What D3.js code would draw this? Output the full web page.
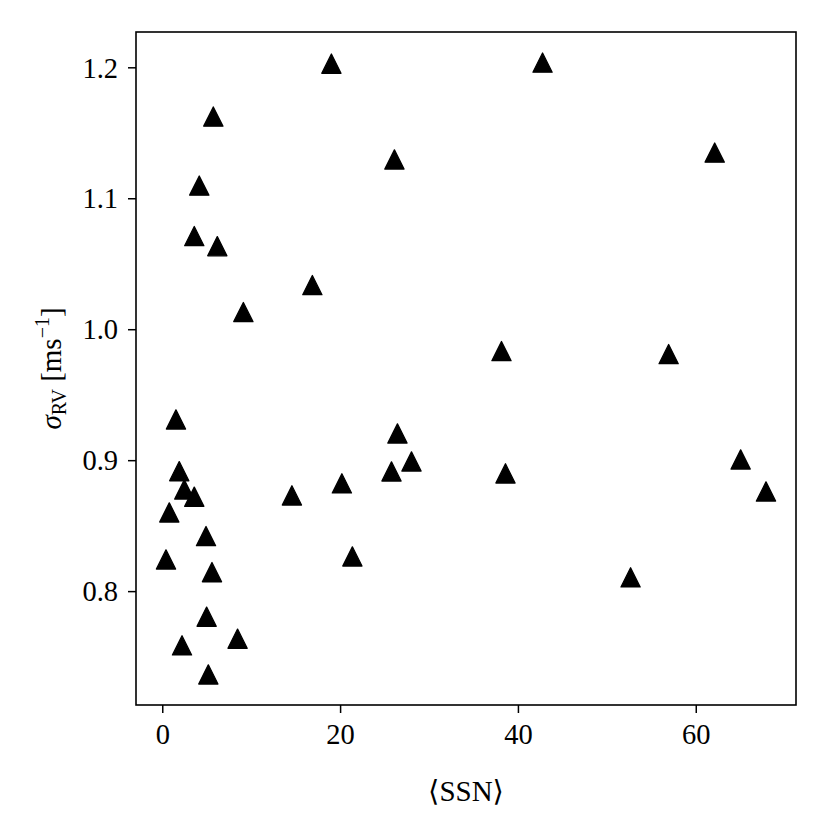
<!DOCTYPE html>
<html>
<head>
<meta charset="utf-8">
<script src="https://cdn.jsdelivr.net/npm/d3@7"></script>
<style>
  html, body { margin: 0; padding: 0; background: #fff; }
  svg { display: block; }
  svg text { font-family: 'Liberation Serif', 'DejaVu Serif', serif !important; fill: #000; }
</style>
</head>
<body>
<script>
// Mean sunspot number <SSN> per point
const ssn = [19.02, 42.77, 5.74, 4.16, 26.11, 62.13, 3.60, 6.19, 16.88, 9.12,
             38.15, 56.95, 1.54, 26.45, 1.91, 2.48, 3.60, 28.03, 25.78, 38.60,
             20.20, 14.58, 65.05, 67.90, 0.79, 4.92, 0.42, 5.59, 21.38, 52.67,
             4.99, 2.22, 8.47, 5.18];
// RV scatter sigma_RV [m/s] per point
const sigmaRV = [1.2028, 1.2036, 1.1624, 1.1097, 1.1296, 1.1349, 1.0711, 1.0634, 1.0337, 1.0131,
                 0.9833, 0.9810, 0.9311, 0.9204, 0.8916, 0.8776, 0.8721, 0.8990, 0.8914, 0.8899,
                 0.8823, 0.8731, 0.9005, 0.8761, 0.8601, 0.8420, 0.8242, 0.8145, 0.8265, 0.8105,
                 0.7805, 0.7586, 0.7637, 0.7364];
const xTicks = [0, 20, 40, 60];
const yTicks = [0.8, 0.9, 1.0, 1.1, 1.2];

const W = 829, H = 829;
const m = { left: 136, right: 796, top: 32, bottom: 705 };
const FONT = "'Liberation Serif', 'DejaVu Serif', serif";

const data = ssn.map((x, i) => ({ x, y: sigmaRV[i] }));

function padded(ext) { const s = ext[1] - ext[0]; return [ext[0] - 0.05 * s, ext[1] + 0.05 * s]; }

const x = d3.scaleLinear().domain(padded(d3.extent(ssn))).range([m.left, m.right]);
const y = d3.scaleLinear().domain(padded(d3.extent(sigmaRV))).range([m.bottom, m.top]);

const svg = d3.select("body").append("svg").attr("width", W).attr("height", H);

// markers
svg.append("g").selectAll("path").data(data).join("path")
  .attr("d", d3.line()([[0, -9.6], [-9.6, 9.6], [9.6, 9.6]]) + "Z")
  .attr("transform", d => `translate(${x(d.x)},${y(d.y)})`)
  .attr("fill", "#000").attr("stroke", "#000").attr("stroke-width", 1.3)
  .attr("stroke-linejoin", "round");

// axes
const xAxis = d3.axisBottom(x).tickValues(xTicks).tickSize(8).tickPadding(11).tickFormat(d3.format("d"));
const yAxis = d3.axisLeft(y).tickValues(yTicks).tickSize(8).tickPadding(10).tickFormat(d3.format(".1f"));

const gx = svg.append("g").attr("transform", `translate(0,${m.bottom})`).call(xAxis);
const gy = svg.append("g").attr("transform", `translate(${m.left},0)`).call(yAxis);
[gx, gy].forEach(g => {
  g.attr("font-family", null);
  g.select(".domain").remove();
  g.selectAll(".tick line").attr("stroke", "#000").attr("stroke-width", 1.5);
  g.selectAll(".tick text").attr("font-size", 28.5).style("font-family", FONT);
});
gx.selectAll(".tick text").attr("dy", "0.71em");
gy.selectAll(".tick text").attr("dy", "0.34em");

// frame
svg.append("rect").attr("x", m.left).attr("y", m.top)
  .attr("width", m.right - m.left).attr("height", m.bottom - m.top)
  .attr("fill", "none").attr("stroke", "#000").attr("stroke-width", 1.6);

// x label
svg.append("text").attr("x", (m.left + m.right) / 2).attr("y", 801)
  .attr("text-anchor", "middle").attr("font-size", 29).style("font-family", FONT)
  .text("\u27E8SSN\u27E9");

// y label
const yl = svg.append("text")
  .attr("transform", `translate(61,${(m.top + m.bottom) / 2}) rotate(-90)`)
  .attr("text-anchor", "middle").attr("font-size", 29).style("font-family", FONT);
yl.append("tspan").attr("font-style", "italic").text("\u03C3");
yl.append("tspan").attr("font-size", 20).attr("dy", 5).text("RV");
yl.append("tspan").attr("dy", -5).text(" [ms");
yl.append("tspan").attr("font-size", 20).attr("dy", -12).text("\u22121");
yl.append("tspan").attr("dy", 12).text("]");
</script>
</body>
</html>
